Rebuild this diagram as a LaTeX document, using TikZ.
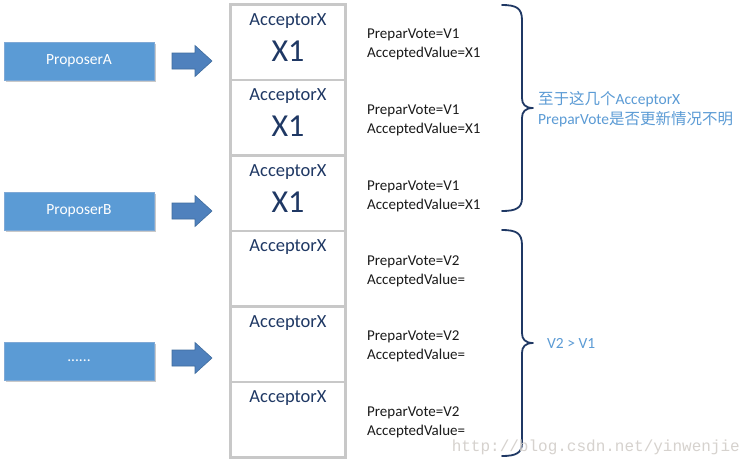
\documentclass[tikz,border=0pt]{standalone}
\usepackage{fontspec}
\setmainfont{Carlito}
\newfontfamily\cjk{Noto Sans CJK SC}
\newfontfamily\wmfont{Liberation Mono}
\definecolor{propfill}{HTML}{5B9BD5}
\definecolor{propdraw}{HTML}{7FA9D6}
\definecolor{arrfill}{HTML}{4F81BD}
\definecolor{arrdraw}{HTML}{3F6C9E}
\definecolor{navy}{HTML}{1F3864}
\definecolor{cellgray}{HTML}{C8C8C8}
\definecolor{notecol}{HTML}{5B9BD5}
\definecolor{txtcol}{HTML}{1A1A1A}
\definecolor{wmcol}{HTML}{D6D2CE}
\usetikzlibrary{shadows}
\tikzset{
  proposer/.style={draw=propdraw, line width=1pt, fill=propfill, minimum width=150, minimum height=38, inner sep=0,
    text=white, font=\fontsize{15.5}{17}\selectfont,
    drop shadow={shadow xshift=2pt, shadow yshift=-2pt, fill=black!35, opacity=0.6}},
  cell/.style={draw=cellgray, line width=2.5pt, fill=white, minimum width=115, minimum height=75.5, inner sep=0},
  acclabel/.style={text=navy, font=\fontsize{18.5}{20}\selectfont, inner sep=0},
  bigval/.style={text=navy, font=\fontsize{32}{34}\selectfont, inner sep=0},
  info/.style={text=txtcol, font=\fontsize{15}{19}\selectfont, anchor=west, inner sep=0, align=left},
  note/.style={text=notecol, font=\fontsize{15.5}{18}\selectfont, anchor=west, inner sep=0},
  bracestyle/.style={draw=navy, line width=1.8pt, line cap=round, line join=round},
  blockarrow/.style={fill=arrfill, draw=arrdraw, line width=0.6pt}
}
\begin{document}
\begin{tikzpicture}[x=1pt, y=-1pt]
\useasboundingbox[fill=white] (0,0) rectangle (747,466);

% proposers
\node[proposer] (pa) at (79,61) {ProposerA};
\node[proposer] (pb) at (79,211) {ProposerB};
\node[proposer] (pc) at (79,361) {......};

% block arrows
\foreach \n/\yy in {a1/61, a2/211, a3/358} {
  \coordinate (\n) at (172,\yy);
  \draw[blockarrow] ([shift={(0,-8)}]\n) -- ++(23,0) -- ++(0,-7.5) -- ++(17,15.5) -- ++(-17,15.5) -- ++(0,-7.5) -- ++(-23,0) -- cycle;
}

% acceptor cells
\foreach \i/\cy in {1/42, 2/117.5, 3/193, 4/268.5, 5/344, 6/419.5} {
  \node[cell] (c\i) at (288,\cy) {};
  \node[acclabel] (l\i) at ([shift={(0,-21)}]c\i.center) {AcceptorX};
}
\node[bigval] (v1) at ([shift={(0,9)}]c1.center) {X1};
\node[bigval] (v2) at ([shift={(0,9)}]c2.center) {X1};
\node[bigval] (v3) at ([shift={(0,9)}]c3.center) {X1};

% info texts
\node[info] (i1) at (367,44) {PreparVote=V1\\AcceptedValue=X1};
\node[info] (i2) at (367,120) {PreparVote=V1\\AcceptedValue=X1};
\node[info] (i3) at (367,196) {PreparVote=V1\\AcceptedValue=X1};
\node[info] (i4) at (367,271) {PreparVote=V2\\AcceptedValue=};
\node[info] (i5) at (367,346) {PreparVote=V2\\AcceptedValue=};
\node[info] (i6) at (367,422) {PreparVote=V2\\AcceptedValue=};

% braces
\draw[bracestyle] (502,5) .. controls (516,5) and (522,8) .. (522,20) -- (522,98)
  .. controls (522,104) and (525,108) .. (533,108)
  .. controls (525,108) and (522,112) .. (522,118) -- (522,198)
  .. controls (522,208) and (516,211) .. (502,211);
\draw[bracestyle] (502,230) .. controls (516,230) and (522,233) .. (522,245) -- (522,333)
  .. controls (522,339) and (525,343) .. (533,343)
  .. controls (525,343) and (522,347) .. (522,353) -- (522,443)
  .. controls (522,453) and (516,456) .. (502,456);

% notes
\node[note] (n1) at (538,99) {{\cjk 至于这几个}AcceptorX};
\node[note] (n2) at (538,119) {PreparVote{\cjk 是否更新情况不明}};
\node[note] (n3) at (547,343) {V2 > V1};

% watermark
\node[text=wmcol, font=\wmfont\fontsize{16}{18}\selectfont, anchor=east, inner sep=0] (wm) at (740,447) {http://blog.csdn.net/yinwenjie};
\end{tikzpicture}
\end{document}
